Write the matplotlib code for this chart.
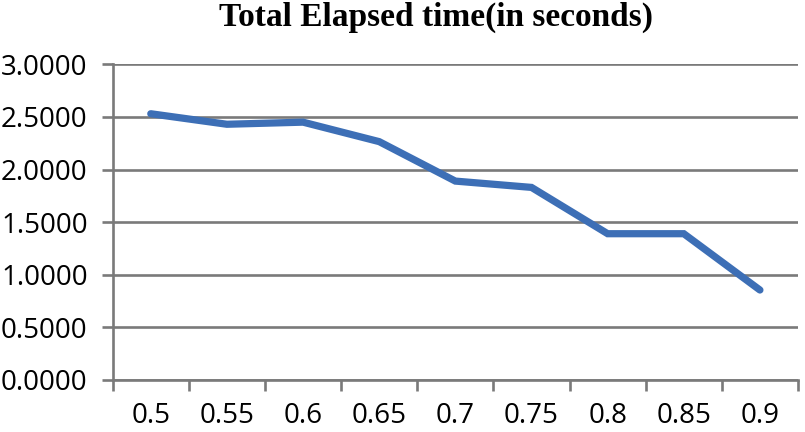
import numpy as np
import matplotlib.pyplot as plt
from matplotlib.ticker import FixedLocator

# data
categories = ['0.5', '0.55', '0.6', '0.65', '0.7', '0.75', '0.8', '0.85', '0.9']
elapsed = [2.53, 2.43, 2.45, 2.265, 1.89, 1.83, 1.39, 1.39, 0.855]
yticks = [0.0, 0.5, 1.0, 1.5, 2.0, 2.5, 3.0]

gray = '#7a7a7a'

fig = plt.figure(figsize=(8.05, 4.32), dpi=100)
ax = fig.add_axes([0.14, 0.1204, 0.8513, 0.7308])

x = np.arange(len(categories))
ax.plot(x, elapsed, color='#3d6fb6', lw=5.2, solid_capstyle='round', solid_joinstyle='miter', zorder=3)

ax.set_xlim(-0.5, len(categories) - 0.5)
ax.set_ylim(0, 3)
ax.set_yticks(yticks)
ax.set_yticklabels(['%.4f' % v for v in yticks])
ax.set_xticks(x)
ax.set_xticklabels(categories)
ax.xaxis.set_minor_locator(FixedLocator(np.arange(-0.5, len(categories), 1.0)))

ax.grid(axis='y', color=gray, lw=1.9, zorder=1)
for s in ['top', 'right']:
    ax.spines[s].set_visible(False)
for s in ['left', 'bottom']:
    ax.spines[s].set_color(gray)
    ax.spines[s].set_linewidth(1.9)

ax.tick_params(axis='y', length=8, width=1.9, color=gray, pad=10,
               labelsize=20, labelfontfamily='Open Sans')
ax.tick_params(axis='x', which='major', length=0, pad=16,
               labelsize=20, labelfontfamily='Open Sans')
ax.tick_params(axis='x', which='minor', length=8, width=1.9, color=gray)

fig.text(0.541, 0.96, 'Total Elapsed time(in seconds)', ha='center', va='center',
         fontsize=24, fontweight='bold', family='Liberation Serif')

fig.savefig('out.png', dpi=100)
